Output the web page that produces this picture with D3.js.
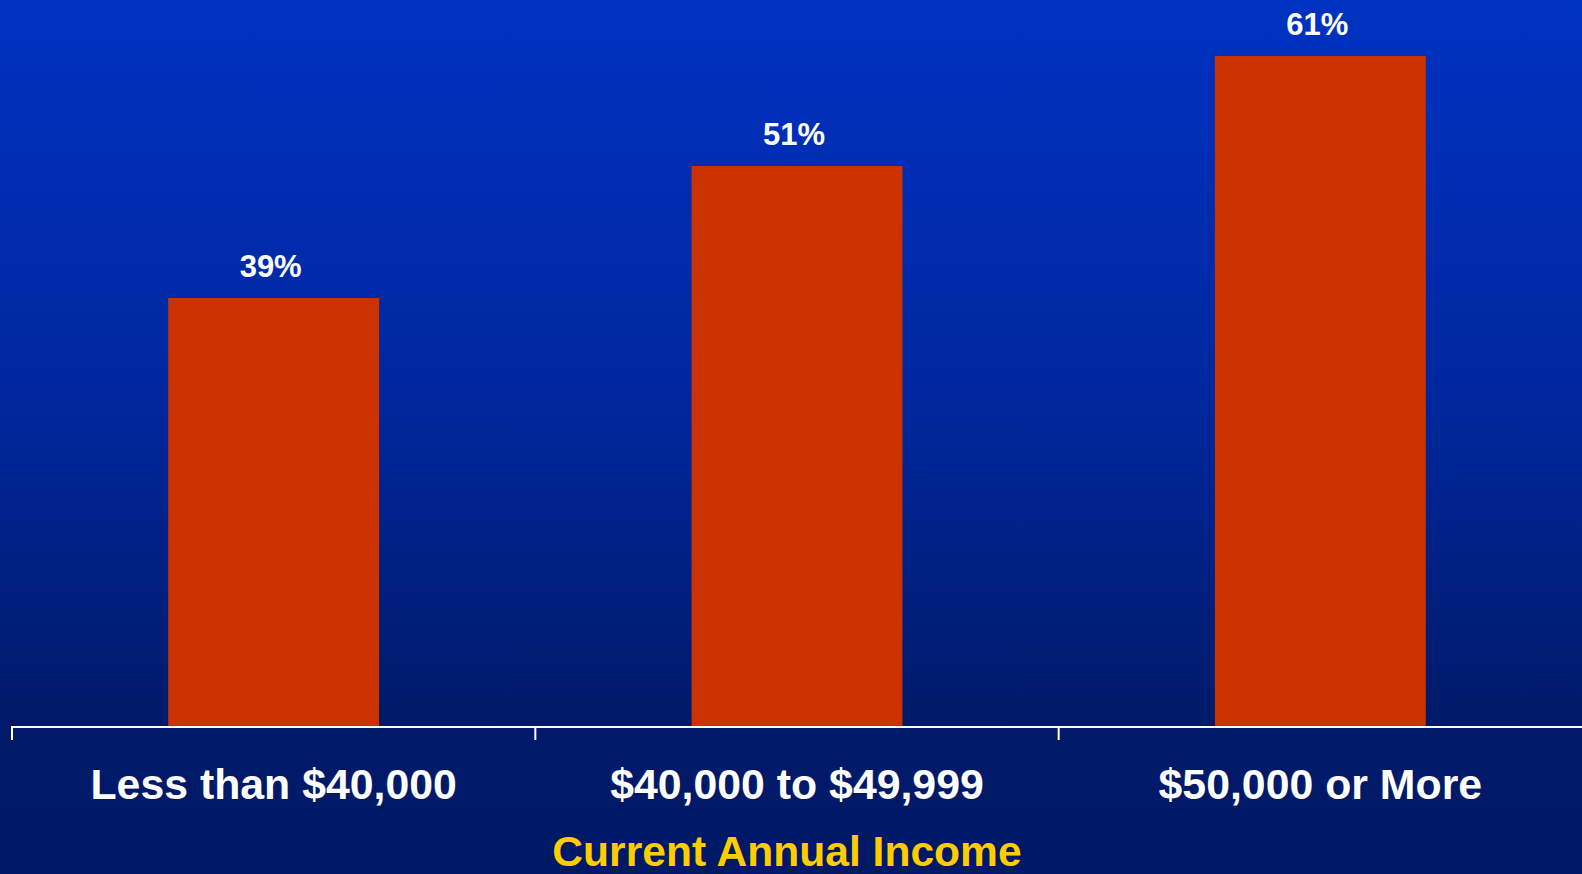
<!DOCTYPE html>
<html>
<head>
<meta charset="utf-8">
<script src="https://cdn.jsdelivr.net/npm/d3@7"></script>
<style>
  html, body { margin: 0; padding: 0; overflow: hidden; background: #001A66; }
  svg { display: block; }
  text { font-family: "Liberation Sans", Arial, Helvetica, sans-serif; font-weight: bold; }
</style>
</head>
<body>
<script>
// Share of respondents by current annual income
const categories = ["Less than $40,000", "$40,000 to $49,999", "$50,000 or More"];
const values = [39, 51, 61];
const axisTitle = "Current Annual Income";

const W = 1582, H = 874;
const baseY = 727;

const svg = d3.select("body").append("svg")
  .attr("width", W).attr("height", H);

// Background gradient: bright blue at top fading to navy
const defs = svg.append("defs");
const grad = defs.append("linearGradient")
  .attr("id", "bg").attr("x1", 0).attr("y1", 0).attr("x2", 0).attr("y2", 1);
grad.append("stop").attr("offset", "0%").attr("stop-color", "#0032C2");
grad.append("stop").attr("offset", "45%").attr("stop-color", "#00279E");
grad.append("stop").attr("offset", "82%").attr("stop-color", "#001A6A");
grad.append("stop").attr("offset", "100%").attr("stop-color", "#001966");
svg.append("rect").attr("width", W).attr("height", H).attr("fill", "url(#bg)");

const x = d3.scaleBand().domain(categories).range([12, W]).paddingInner(0).paddingOuter(0);
const y = d3.scaleLinear().domain([0, 100]).range([baseY, baseY - 1100]);

const barW = x.bandwidth() * 0.403;

// Bars
svg.append("g").selectAll("rect")
  .data(values)
  .join("rect")
  .attr("x", (d, i) => x(categories[i]) + (x.bandwidth() - barW) / 2)
  .attr("y", d => y(d))
  .attr("width", barW)
  .attr("height", d => baseY - y(d))
  .attr("fill", "#CC3300");

// Value labels
svg.append("g").selectAll("text")
  .data(values)
  .join("text")
  .attr("x", (d, i) => x(categories[i]) + x.bandwidth() / 2 - 3)
  .attr("y", d => y(d) - 21.5)
  .attr("text-anchor", "middle")
  .attr("fill", "#FFFFFF")
  .attr("font-size", 31)
  .text(d => d + "%");

// Category axis: baseline with ticks between categories
const axis = svg.append("g");
axis.append("line")
  .attr("x1", x.range()[0]).attr("x2", x.range()[1])
  .attr("y1", baseY).attr("y2", baseY)
  .attr("stroke", "#FFFFFF").attr("stroke-width", 2);
axis.selectAll("line.tick")
  .data(categories)
  .join("line")
  .attr("class", "tick")
  .attr("x1", d => x(d)).attr("x2", d => x(d))
  .attr("y1", baseY - 1).attr("y2", baseY + 13)
  .attr("stroke", "#FFFFFF").attr("stroke-width", 2);

axis.selectAll("text")
  .data(categories)
  .join("text")
  .attr("x", d => x(d) + x.bandwidth() / 2)
  .attr("y", baseY + 72)
  .attr("text-anchor", "middle")
  .attr("fill", "#FFFFFF")
  .attr("font-size", 42.8)
  .text(d => d);

// Axis title
svg.append("text")
  .attr("x", 787)
  .attr("y", 866)
  .attr("text-anchor", "middle")
  .attr("fill", "#FFCC00")
  .attr("font-size", 42.6)
  .text(axisTitle);
</script>
</body>
</html>
